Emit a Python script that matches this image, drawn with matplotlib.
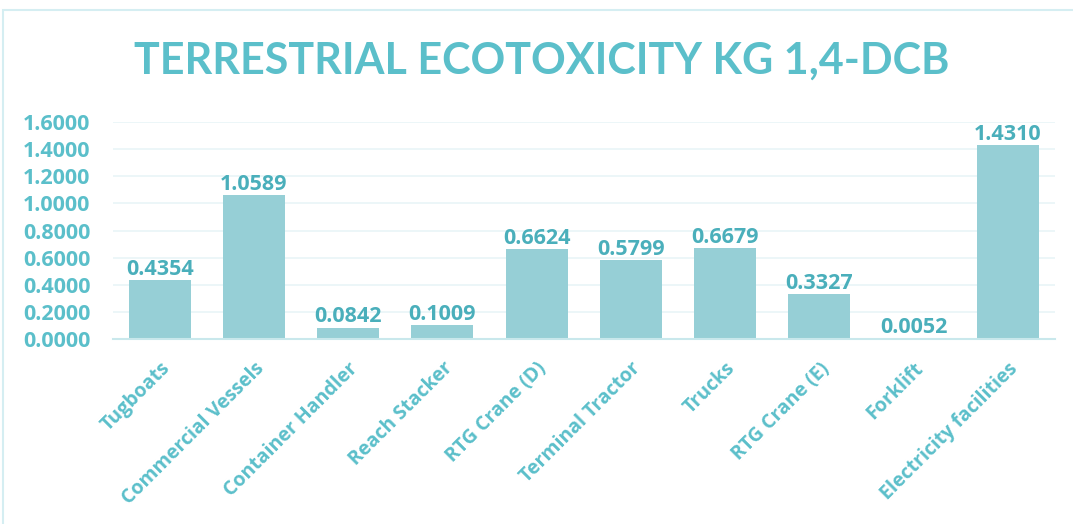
import matplotlib
matplotlib.use('Agg')
import matplotlib.pyplot as plt
from matplotlib.patches import Rectangle
import numpy as np

# data
categories = ['Tugboats', 'Commercial Vessels', 'Container Handler', 'Reach Stacker',
              'RTG Crane (D)', 'Terminal Tractor', 'Trucks', 'RTG Crane (E)',
              'Forklift', 'Electricity facilities']
values = [0.4354, 1.0589, 0.0842, 0.1009, 0.6624, 0.5799, 0.6679, 0.3327, 0.0052, 1.4310]
yticks = [0.0, 0.2, 0.4, 0.6, 0.8, 1.0, 1.2, 1.4, 1.6]

teal = '#5BBFCA'
label_col = '#4AAFBB'
bar_col = '#96CFD6'

plt.rcParams['font.family'] = ['Open Sans', 'DejaVu Sans']

fig = plt.figure(figsize=(10.73, 5.24), dpi=100)
ax = fig.add_axes([0.105, 0.353, 0.878, 0.414])

x = np.arange(len(categories))
bars = ax.bar(x, values, width=0.66, color=bar_col, zorder=2)
for xi, v in zip(x, values):
    ax.text(xi, v + 0.003, '%.4f' % v, ha='center', va='bottom', color=label_col,
            fontsize=15.5, fontweight='bold', zorder=3)

ax.set_xlim(-0.5, len(categories) - 0.5)
ax.set_ylim(0, 1.6)
ax.set_yticks(yticks)
ax.set_yticklabels(['%.4f' % t for t in yticks], fontsize=15.5, fontweight='bold', color=teal)
ax.set_xticks(x)
ax.set_xticklabels(categories, rotation=45, ha='right', rotation_mode='anchor',
                   fontsize=14, fontweight='bold', color=teal)
ax.tick_params(axis='x', length=0, pad=14)
ax.tick_params(axis='y', length=0, pad=16)
ax.grid(axis='y', color='#E9F5F7', linewidth=1.2, zorder=0)
for s in ['top', 'right', 'left']:
    ax.spines[s].set_visible(False)
ax.spines['bottom'].set_color('#C9E8EC')
ax.spines['bottom'].set_linewidth(1.5)

fig.text(0.505, 0.884, 'TERRESTRIAL ECOTOXICITY KG 1,4-DCB', ha='center', va='center',
         color=teal, fontsize=31, fontweight='bold', family=['Lato', 'DejaVu Sans'])

fig.patches.append(Rectangle((0.003, -0.01), 1.2, 0.99, transform=fig.transFigure,
                             fill=False, edgecolor='#D5EEF2', linewidth=1.5))

fig.savefig('out.png', dpi=100)
